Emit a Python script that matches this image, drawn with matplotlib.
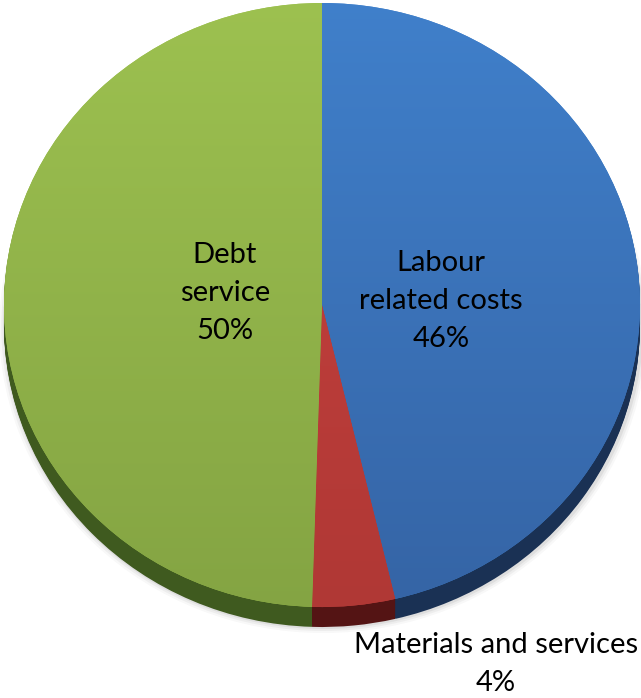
import numpy as np
import matplotlib.pyplot as plt
from matplotlib.colors import LinearSegmentedColormap
from matplotlib.patches import Ellipse

# cost breakdown
categories = ["Labour\nrelated costs", "Materials and services", "Debt\nservice"]
shares = [46.3, 4.2, 49.5]
pct_labels = ["46%", "4%", "50%"]

top_light = ["#4080cb", "#c8423f", "#9dc150"]
top_dark = ["#3564a5", "#b03835", "#84a443"]
side_colors = ["#1a3154", "#541414", "#3f5a1f"]

W, H = 641, 698
cx, cy = 322, 305      # centre of the pie face, pixels from top-left
rx, ry = 318, 302      # horizontal / vertical radius in pixels (tilted pie)
depth = 20

plt.rcParams['font.family'] = ['Lato', 'DejaVu Sans']

fig = plt.figure(figsize=(W / 100, H / 100), dpi=100)
ax = fig.add_axes([0, 0, 1, 1])


def px(x, y):
    # pixel position -> data position (radius 1 pie stretched to an ellipse)
    return (x - cx) / rx, (cy - y) / ry


# soft shadow under the pie
for k, a in [(6, 0.06), (4, 0.09), (2, 0.14)]:
    ax.add_patch(Ellipse((0.004, -(depth + k * 0.5) / ry), 2 + k / rx * 2, 2 + k / ry,
                         facecolor="#888888", edgecolor="none", alpha=a, zorder=0))

# side of the pie: stack of shifted pies
for d in range(depth, 0, -1):
    ax.pie(shares, colors=side_colors, startangle=90, counterclock=False,
           radius=1, center=(0, -d / ry), wedgeprops=dict(linewidth=0, zorder=1))

# top face
wedges, _ = ax.pie(shares, colors=top_light, startangle=90, counterclock=False,
                   radius=1, center=(0, 0), wedgeprops=dict(linewidth=0, zorder=2))

grad = np.linspace(0, 1, 256).reshape(-1, 1)
for w, c1, c2 in zip(wedges, top_light, top_dark):
    cmap = LinearSegmentedColormap.from_list("g", [c1, c2])
    im = ax.imshow(grad, cmap=cmap, extent=(-1.02, 1.02, -1.02, 1.02),
                   origin="upper", aspect="auto", zorder=3, interpolation="bilinear")
    im.set_clip_path(w)

ax.set_aspect("auto")
ax.set_xlim(-cx / rx, (W - cx) / rx)
ax.set_ylim(-(H - cy) / ry, cy / ry)
ax.axis("off")

# data labels
label_pos = [(441, 301), (496, 664), (225, 293)]
for name, pct, (x, y) in zip(categories, pct_labels, label_pos):
    ax.text(*px(x, y), name + "\n" + pct, ha="center", va="center",
            multialignment="center", fontsize=21, linespacing=1.56,
            color="black", zorder=5)

plt.savefig("out.png", dpi=100)
